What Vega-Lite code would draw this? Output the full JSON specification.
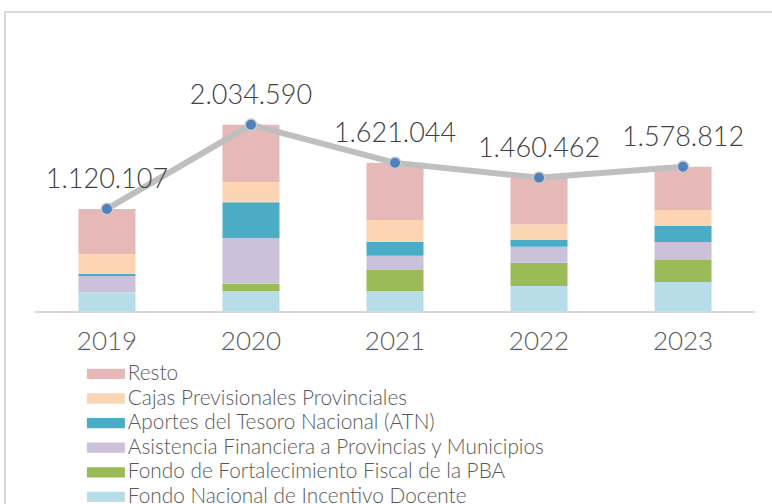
{
  "$schema": "https://vega.github.io/schema/vega-lite/v6.json",
  "autosize": {"type": "none"},
  "width": 780,
  "height": 500,
  "padding": {"left": 5, "top": 12, "right": 0, "bottom": 0},
  "config": {
    "view": {"stroke": "#D9D9D9", "strokeWidth": 2},
    "font": "Lato",
    "locale": {"number": {"decimal": ",", "thousands": ".", "grouping": [3], "currency": ["$", ""]}}
  },
  "data": {
    "values": [
      {"anio": "2019", "concepto": "Fondo Nacional de Incentivo Docente", "valor": 214000},
      {"anio": "2019", "concepto": "Fondo de Fortalecimiento Fiscal de la PBA", "valor": 0},
      {"anio": "2019", "concepto": "Asistencia Financiera a Provincias y Municipios", "valor": 177000},
      {"anio": "2019", "concepto": "Aportes del Tesoro Nacional (ATN)", "valor": 22000},
      {"anio": "2019", "concepto": "Cajas Previsionales Provinciales", "valor": 217000},
      {"anio": "2019", "concepto": "Resto", "valor": 490107},
      {"anio": "2020", "concepto": "Fondo Nacional de Incentivo Docente", "valor": 228000},
      {"anio": "2020", "concepto": "Fondo de Fortalecimiento Fiscal de la PBA", "valor": 79000},
      {"anio": "2020", "concepto": "Asistencia Financiera a Provincias y Municipios", "valor": 494000},
      {"anio": "2020", "concepto": "Aportes del Tesoro Nacional (ATN)", "valor": 391000},
      {"anio": "2020", "concepto": "Cajas Previsionales Provinciales", "valor": 221000},
      {"anio": "2020", "concepto": "Resto", "valor": 621590},
      {"anio": "2021", "concepto": "Fondo Nacional de Incentivo Docente", "valor": 228000},
      {"anio": "2021", "concepto": "Fondo de Fortalecimiento Fiscal de la PBA", "valor": 228000},
      {"anio": "2021", "concepto": "Asistencia Financiera a Provincias y Municipios", "valor": 155000},
      {"anio": "2021", "concepto": "Aportes del Tesoro Nacional (ATN)", "valor": 152000},
      {"anio": "2021", "concepto": "Cajas Previsionales Provinciales", "valor": 236000},
      {"anio": "2021", "concepto": "Resto", "valor": 622044},
      {"anio": "2022", "concepto": "Fondo Nacional de Incentivo Docente", "valor": 283000},
      {"anio": "2022", "concepto": "Fondo de Fortalecimiento Fiscal de la PBA", "valor": 253000},
      {"anio": "2022", "concepto": "Asistencia Financiera a Provincias y Municipios", "valor": 174000},
      {"anio": "2022", "concepto": "Aportes del Tesoro Nacional (ATN)", "valor": 73000},
      {"anio": "2022", "concepto": "Cajas Previsionales Provinciales", "valor": 171000},
      {"anio": "2022", "concepto": "Resto", "valor": 506462},
      {"anio": "2023", "concepto": "Fondo Nacional de Incentivo Docente", "valor": 326000},
      {"anio": "2023", "concepto": "Fondo de Fortalecimiento Fiscal de la PBA", "valor": 239000},
      {"anio": "2023", "concepto": "Asistencia Financiera a Provincias y Municipios", "valor": 196000},
      {"anio": "2023", "concepto": "Aportes del Tesoro Nacional (ATN)", "valor": 174000},
      {"anio": "2023", "concepto": "Cajas Previsionales Provinciales", "valor": 174000},
      {"anio": "2023", "concepto": "Resto", "valor": 469812}
    ]
  },
  "layer": [
    {
      "encoding": {
        "x": {
          "field": "anio", "type": "nominal",
          "scale": {"paddingInner": 0.604, "paddingOuter": 0.51, "align": 0.5},
          "axis": {"title": null, "domain": false, "ticks": false, "grid": false, "labelAngle": 0, "offset": -200, "labelPadding": 16, "labelFontSize": 26, "labelFontWeight": 300, "labelColor": "#595959", "labelFont": "Lato"}
        }
      },
      "layer": [
        {
          "transform": [
            {"calculate": "indexof(['Resto','Cajas Previsionales Provinciales','Aportes del Tesoro Nacional (ATN)','Asistencia Financiera a Provincias y Municipios','Fondo de Fortalecimiento Fiscal de la PBA','Fondo Nacional de Incentivo Docente'], datum.concepto)", "as": "orden"}
          ],
          "mark": {"type": "bar"},
          "encoding": {
            "y": {"aggregate": "sum", "field": "valor", "type": "quantitative", "stack": "zero", "scale": {"domain": [-2173913, 3260870], "nice": false, "zero": false}, "axis": null},
            "color": {
              "field": "concepto", "type": "nominal",
              "scale": {
                "domain": ["Resto", "Cajas Previsionales Provinciales", "Aportes del Tesoro Nacional (ATN)", "Asistencia Financiera a Provincias y Municipios", "Fondo de Fortalecimiento Fiscal de la PBA", "Fondo Nacional de Incentivo Docente"],
                "range": ["#E6B9B8", "#FCD5B5", "#4BACC6", "#CCC1DA", "#9BBB59", "#B7DEE8"]
              },
              "legend": {
                "title": null, "orient": "none", "legendX": 90.5, "legendY": 351.5,
                "symbolType": "M-2,-0.54H2V0.54H-2Z", "symbolSize": 361, "symbolStrokeWidth": 0,
                "labelFontSize": 20.8, "labelFontWeight": 300, "labelColor": "#595959", "labelFont": "Lato", "labelLimit": 0, "labelOffset": 11.5,
                "rowPadding": 2.6, "padding": 0
              }
            },
            "order": {"field": "orden", "type": "quantitative", "sort": "descending"}
          }
        },
        {
          "transform": [{"aggregate": [{"op": "sum", "field": "valor", "as": "total"}], "groupby": ["anio"]}],
          "mark": {"type": "line", "color": "#BFBFBF", "strokeWidth": 6},
          "encoding": {"y": {"field": "total", "type": "quantitative"}}
        },
        {
          "transform": [{"aggregate": [{"op": "sum", "field": "valor", "as": "total"}], "groupby": ["anio"]}],
          "mark": {"type": "point", "filled": true, "color": "#4F81BD", "size": 130, "stroke": "#C8C8C8", "strokeWidth": 1.5, "opacity": 1},
          "encoding": {"y": {"field": "total", "type": "quantitative"}}
        },
        {
          "transform": [{"aggregate": [{"op": "sum", "field": "valor", "as": "total"}], "groupby": ["anio"]}],
          "mark": {"type": "text", "dy": -29, "fontSize": 27, "fontWeight": 300, "color": "#404040", "font": "Lato"},
          "encoding": {"y": {"field": "total", "type": "quantitative"}, "text": {"field": "total", "type": "quantitative", "format": ",d"}}
        }
      ]
    },
    {
      "mark": {"type": "rule", "color": "#D9D9D9", "strokeWidth": 2},
      "encoding": {
        "x": {"datum": 2018.5, "type": "quantitative", "scale": {"domain": [2018.2917, 2023.7083], "nice": false, "zero": false}, "axis": null},
        "x2": {"datum": 2023.5},
        "y": {"datum": 0, "type": "quantitative"}
      }
    }
  ],
  "resolve": {"scale": {"x": "independent"}}
}
